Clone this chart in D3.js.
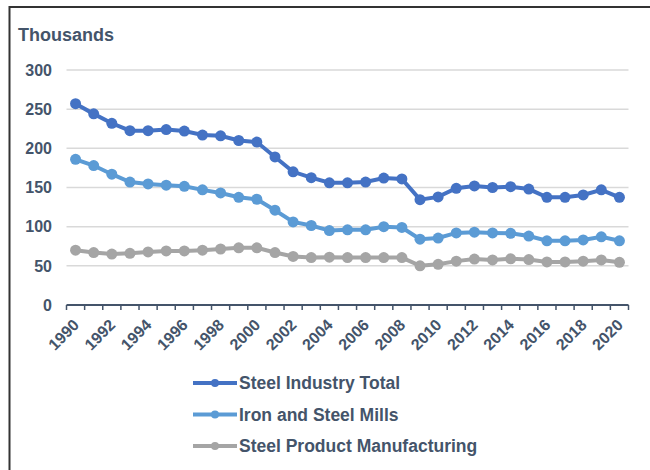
<!DOCTYPE html>
<html lang="en">
  <head>
    <meta charset="UTF-8" />
    <title>Steel employment</title>
    <script src="https://d3js.org/d3.v7.min.js"></script>
    <style>
      body { margin: 0; background: #fff; }
      text { font-family: "Liberation Sans", Arial, sans-serif; font-weight: bold; fill: #44546A; }
      .grid line { stroke: #D9D9D9; stroke-width: 1.5; }
    </style>
  </head>
  <body>
    <script>
      // data, thousands of employees
      const years = d3.range(1990, 2021);
      const steelTotal = [257, 244, 232, 222.5, 222.5, 224, 222, 217, 216, 210, 208, 189, 170, 162.5, 156,
                          156, 157, 162, 161, 134.5, 138, 149, 152, 150, 151, 148, 137.5, 137.5, 140.5, 147, 137.5];
      const ironSteelMills = [186, 178, 167, 157, 154.5, 153, 151.5, 147, 143, 137.5, 135, 121, 106, 101.5, 95,
                              96, 96, 100, 99, 84, 85.5, 92, 93, 92, 91.5, 88, 82, 82, 83, 87, 82];
      const productMfg = [70, 67, 65, 66, 67.7, 69, 69, 70, 71.5, 73, 73, 67, 62, 60.5, 61,
                          60.5, 60.5, 60.5, 60.5, 50, 52, 56, 58.7, 57.5, 59, 58, 55, 55, 56, 57.5, 54.5];
      const seriesNames = ["Steel Industry Total", "Iron and Steel Mills", "Steel Product Manufacturing"];
      const seriesColors = ["#4472C4", "#5B9BD5", "#A5A5A5"];
      const yTicks = [0, 50, 100, 150, 200, 250, 300];

      const series = [steelTotal, ironSteelMills, productMfg];

      let width = 650, height = 470;

      const svg = d3.select("body")
        .append("svg")
        .attr("width", width)
        .attr("height", height);

      // frame
      svg.append("line").attr("x1", 9).attr("x2", width).attr("y1", 7).attr("y2", 7)
        .attr("stroke", "#333").attr("stroke-width", 2);
      svg.append("line").attr("x1", 9.5).attr("x2", 9.5).attr("y1", 6).attr("y2", height)
        .attr("stroke", "#333").attr("stroke-width", 2);

      const plotLeft = 66.5, plotRight = 628.5, plotTop = 70, plotBottom = 305;

      const x = d3.scaleBand().domain(years).range([plotLeft, plotRight]);
      const y = d3.scaleLinear().domain([0, 300]).range([plotBottom, plotTop]);
      const cx = d => x(d) + x.bandwidth() / 2;

      svg.append("text").attr("x", 18).attr("y", 41).style("font-size", "18px").text("Thousands");

      // gridlines
      svg.append("g").attr("class", "grid")
        .selectAll("line")
        .data(yTicks.filter(d => d > 0))
        .enter()
        .append("line")
        .attr("x1", plotLeft).attr("x2", plotRight)
        .attr("y1", d => y(d)).attr("y2", d => y(d));

      // y labels
      svg.append("g")
        .selectAll("text")
        .data(yTicks)
        .enter()
        .append("text")
        .attr("x", 52)
        .attr("y", d => y(d))
        .attr("dy", "0.36em")
        .attr("text-anchor", "end")
        .style("font-size", "16px")
        .text(d => d);

      // x axis
      const xAxis = svg.append("g");
      xAxis.append("line")
        .attr("x1", plotLeft).attr("x2", plotRight)
        .attr("y1", plotBottom).attr("y2", plotBottom)
        .attr("stroke", "#44546A").attr("stroke-width", 2);
      xAxis.selectAll(".tick")
        .data(years.concat([2021]))
        .enter()
        .append("line")
        .attr("x1", d => d === 2021 ? plotRight : x(d))
        .attr("x2", d => d === 2021 ? plotRight : x(d))
        .attr("y1", plotBottom).attr("y2", plotBottom + 5)
        .attr("stroke", "#44546A").attr("stroke-width", 1.5);
      xAxis.selectAll("text")
        .data(years.filter(d => d % 2 === 0))
        .enter()
        .append("text")
        .attr("transform", d => "translate(" + (cx(d) + 4.5) + "," + (plotBottom + 21) + ") rotate(-45)")
        .attr("text-anchor", "end")
        .style("font-size", "16px")
        .text(d => d);

      const line = d3.line()
        .x((d, i) => cx(years[i]))
        .y(d => y(d));

      // draw back to front so total is on top
      [2, 1, 0].forEach(function (s) {
        const g = svg.append("g");
        g.append("path")
          .datum(series[s])
          .attr("d", line)
          .attr("fill", "none")
          .attr("stroke", seriesColors[s])
          .attr("stroke-width", 4);
        g.selectAll("circle")
          .data(series[s])
          .enter()
          .append("circle")
          .attr("cx", (d, i) => cx(years[i]))
          .attr("cy", d => y(d))
          .attr("r", 5.5)
          .attr("fill", seriesColors[s]);
      });

      // legend
      const legend = svg.append("g")
        .selectAll("g")
        .data(seriesNames)
        .enter()
        .append("g")
        .attr("transform", (d, i) => "translate(193," + (383 + i * 31.5) + ")");
      legend.append("line")
        .attr("x1", 0).attr("x2", 44)
        .attr("stroke", (d, i) => seriesColors[i])
        .attr("stroke-width", 4);
      legend.append("circle")
        .attr("cx", 22).attr("r", 4)
        .attr("fill", (d, i) => seriesColors[i]);
      legend.append("text")
        .attr("x", 46)
        .attr("dy", "0.36em")
        .style("font-size", "17.5px")
        .text(d => d);
    </script>
  </body>
</html>
